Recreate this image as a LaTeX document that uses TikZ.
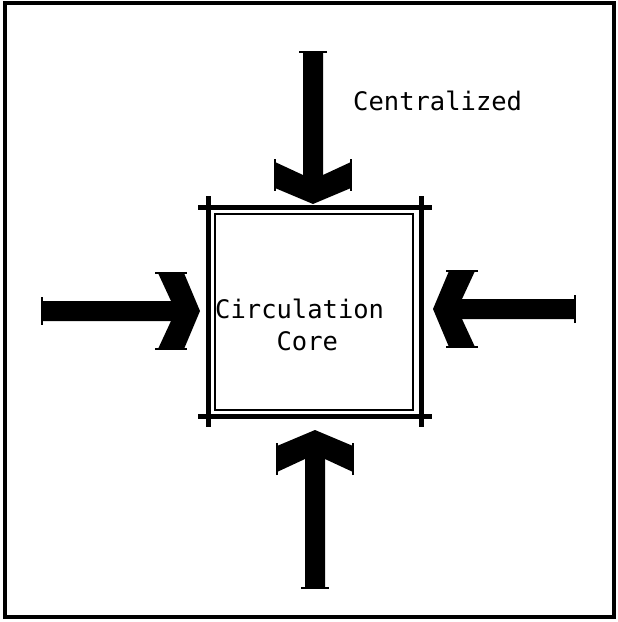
\documentclass[tikz,border=0pt]{standalone}
\usepackage{fontspec}
\setmonofont{DejaVu Sans Mono}
\usetikzlibrary{positioning}
\tikzset{
  frame/.style={draw=black,line width=4pt},
  wall/.style={draw=black,line width=5pt},
  lining/.style={draw=black,line width=1.8pt},
  lbl/.style={font=\ttfamily\fontsize{25.5}{32}\selectfont,inner sep=0pt,align=left,text=black},
  tick/.style={draw=black,line width=1.8pt},
  inarrow/.pic={
    \fill[black] (0,0) -- (-16,38) -- (-42,38) -- (-29,10) -- (-#1,10) -- (-#1,-10)
      -- (-29,-10) -- (-42,-38) -- (-16,-38) -- cycle;
    \draw[tick] (-#1,-14) -- (-#1,14);
    \draw[tick] (-45,38) -- (-13,38) (-45,-38) -- (-13,-38);
  },
}
\begin{document}
\begin{tikzpicture}[x=1pt,y=-1pt]
  \useasboundingbox (0,0) rectangle (618,622);
  % frame
  \draw[frame] (5,3) rectangle (614,617);
  % core walls, crossing at the corners
  \draw[wall] (198,207) -- (432,207);
  \draw[wall] (198,416) -- (432,416);
  \draw[wall] (208,196) -- (208,427);
  \draw[wall] (421,196) -- (421,427);
  \draw[lining] (215,214) rectangle (413,410);
  % arrows into the core
  \pic[rotate=-90] at (313,204) {inarrow=152};
  \pic at (200,311) {inarrow=158};
  \pic[rotate=180] at (433,309) {inarrow=142};
  \pic[rotate=90] at (315,430) {inarrow=158};
  % labels
  \node[lbl,anchor=base west] (central) at (353,110) {Centralized};
  \node[lbl,anchor=base west] (corelbl) at (215,350) {Circulation\\\phantom{Circ}Core};
\end{tikzpicture}
\end{document}
